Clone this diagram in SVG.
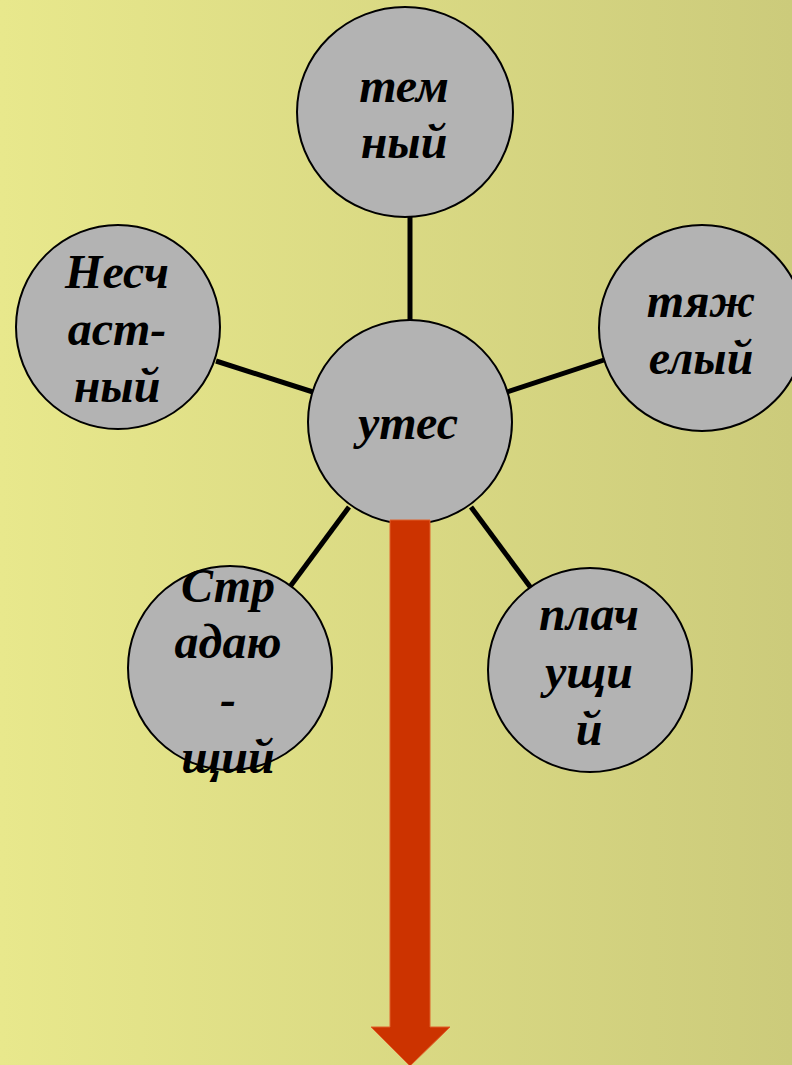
<svg xmlns="http://www.w3.org/2000/svg" width="792" height="1065" viewBox="0 0 792 1065">
<defs>
<linearGradient id="bg" x1="0" y1="0" x2="1" y2="0">
<stop offset="0" stop-color="#e8e88c"/>
<stop offset="1" stop-color="#cccb7b"/>
</linearGradient>
<style>
.node{fill:#b3b3b3;stroke:#000;stroke-width:2}
.lbl{font-family:"Liberation Serif","Times New Roman",serif;font-weight:bold;font-style:italic;font-size:48px;fill:#000;text-anchor:middle}
.conn{stroke:#000;stroke-width:5;fill:none}
.arrow{fill:#cc3300;stroke:#e0602a;stroke-width:1}
</style>
</defs>
<rect x="0" y="0" width="792" height="1065" fill="url(#bg)"/>
<g id="connectors">
<line class="conn" x1="410" y1="217" x2="410" y2="322"/>
<line class="conn" x1="216" y1="361" x2="313" y2="392"/>
<line class="conn" x1="507" y1="392" x2="604" y2="360"/>
<line class="conn" x1="349" y1="507" x2="289" y2="588"/>
<line class="conn" x1="471" y1="507" x2="531" y2="588"/>
</g>
<g id="node-top">
<ellipse class="node" cx="405" cy="112" rx="108" ry="105"/>
<text class="lbl" x="404" y="102">тем</text>
<text class="lbl" x="404" y="158">ный</text>
</g>
<g id="node-left">
<circle class="node" cx="118" cy="327" r="102"/>
<text class="lbl" x="117" y="288">Несч</text>
<text class="lbl" x="117" y="345">аст-</text>
<text class="lbl" x="117" y="402">ный</text>
</g>
<g id="node-right">
<circle class="node" cx="702" cy="328" r="103"/>
<text class="lbl" x="701" y="317">тяж</text>
<text class="lbl" x="701" y="374">елый</text>
</g>
<g id="node-center">
<circle class="node" cx="410" cy="422" r="102"/>
<text class="lbl" x="408" y="439">утес</text>
</g>
<g id="node-bottom-left">
<circle class="node" cx="230" cy="668" r="102"/>
<text class="lbl" x="228" y="602">Стр</text>
<text class="lbl" x="228" y="658">адаю</text>
<text class="lbl" x="228" y="715">-</text>
<text class="lbl" x="228" y="773">щий</text>
</g>
<g id="node-bottom-right">
<circle class="node" cx="590" cy="670" r="102"/>
<text class="lbl" x="589" y="630">плач</text>
<text class="lbl" x="589" y="688">ущи</text>
<text class="lbl" x="589" y="745">й</text>
</g>
<g id="arrow">
<polygon class="arrow" points="390,520 430,520 430,1027 450,1027 410,1066 371,1027 390,1027"/>
</g>
</svg>
